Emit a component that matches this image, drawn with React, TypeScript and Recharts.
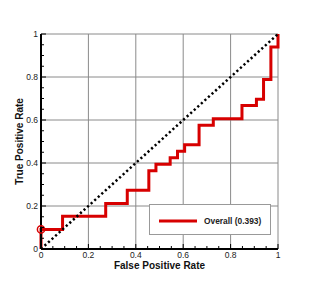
import {
  LineChart,
  Line,
  XAxis,
  YAxis,
  CartesianGrid,
  Legend,
} from 'recharts';

// ROC curve corner points (false positive rate, true positive rate)
const fpr = [0, 0, 0.091, 0.273, 0.364, 0.455, 0.485, 0.545, 0.576, 0.606, 0.667, 0.727, 0.848, 0.909, 0.939, 0.97, 1];
const tpr = [0, 0.091, 0.152, 0.212, 0.273, 0.364, 0.394, 0.424, 0.455, 0.485, 0.576, 0.606, 0.667, 0.697, 0.788, 0.939, 1];

// chance diagonal
const diagX = [0, 1];
const diagY = [0, 1];

const axisTicks = [0, 0.05, 0.1, 0.15, 0.2, 0.25, 0.3, 0.35, 0.4, 0.45, 0.5, 0.55, 0.6, 0.65, 0.7, 0.75, 0.8, 0.85, 0.9, 0.95, 1];
const majorTicks = [0, 0.2, 0.4, 0.6, 0.8, 1];
const tickLabels = ['0', '0.2', '0.4', '0.6', '0.8', '1'];
const gridTicks = [0.2, 0.4, 0.6, 0.8, 1];

const seriesName = 'Overall (0.393)';

const rocData = fpr.map((x, i) => ({ x, y: tpr[i] }));
const diagData = diagX.map((x, i) => ({ x, y: diagY[i] }));

const FONT = '"Liberation Sans", Arial, sans-serif';
const RED = '#d70000';
const TICK_MARGIN = 3;

const majorIndex = (v: number) => majorTicks.findIndex((m) => Math.abs(m - v) < 1e-6);

const YTick = (props: any) => {
  const { x, y, payload } = props;
  const mi = majorIndex(payload.value);
  const ax = x + TICK_MARGIN;
  return (
    <g>
      <line x1={ax} x2={ax + (mi >= 0 ? 5 : 3)} y1={y} y2={y} stroke="#000" strokeWidth={1} />
      {mi >= 0 && (
        <text x={x} y={y} dy="0.35em" textAnchor="end" fontSize={8.5} fontFamily={FONT} fill="#222">
          {tickLabels[mi]}
        </text>
      )}
    </g>
  );
};

const XTick = (props: any) => {
  const { x, y, payload } = props;
  const mi = majorIndex(payload.value);
  const ay = y - TICK_MARGIN;
  return (
    <g>
      <line x1={x} x2={x} y1={ay} y2={ay - (mi >= 0 ? 5 : 3)} stroke="#000" strokeWidth={1} />
      {mi >= 0 && (
        <text x={x} y={y} dy={5.5} textAnchor="middle" fontSize={8.5} fontFamily={FONT} fill="#222">
          {tickLabels[mi]}
        </text>
      )}
    </g>
  );
};

const renderLegend = () => (
  <div style={{ position: 'relative', width: '100%', height: '100%' }}>
    <svg width={120} height={29} style={{ position: 'absolute', left: 0, top: 0 }}>
      <line x1={9} x2={47} y1={16} y2={16} stroke={RED} strokeWidth={3} />
      <text x={54} y={19} fontSize={8.4} fontWeight="bold" fontFamily={FONT} fill="#222">
        {seriesName}
      </text>
    </svg>
  </div>
);

const startDot = (p: any) => {
  if (p.index === 1) {
    return <circle key="start" cx={p.cx} cy={p.cy} r={3.6} fill="none" stroke={RED} strokeWidth={1.5} />;
  }
  return <g key={`d-${p.index}`} />;
};

export default function App() {
  return (
    <div style={{ position: 'absolute', left: 0, top: 0, width: 316, height: 281, background: '#fff' }}>
      <LineChart width={316} height={281} margin={{ top: 34, right: 38, bottom: 0, left: 0 }}>
        <CartesianGrid
          stroke="#8a8a8a"
          strokeWidth={1}
          horizontalValues={gridTicks}
          verticalValues={gridTicks}
        />
        <XAxis
          type="number"
          dataKey="x"
          domain={[0, 1]}
          ticks={axisTicks}
          interval={0}
          height={32}
          tickSize={0}
          tickMargin={TICK_MARGIN}
          tickLine={false}
          tick={<XTick />}
          axisLine={{ stroke: '#000', strokeWidth: 2 }}
          label={{
            content: ({ viewBox }: any) => (
              <text
                x={viewBox.x + viewBox.width / 2}
                y={viewBox.y + 19.5}
                textAnchor="middle"
                fontSize={10}
                fontWeight="bold"
                fontFamily={FONT}
                fill="#111"
              >
                False Positive Rate
              </text>
            ),
          }}
        />
        <YAxis
          type="number"
          dataKey="y"
          domain={[0, 1]}
          ticks={axisTicks}
          interval={0}
          width={41}
          tickSize={0}
          tickMargin={TICK_MARGIN}
          tickLine={false}
          tick={<YTick />}
          axisLine={{ stroke: '#000', strokeWidth: 2 }}
          label={{
            content: ({ viewBox }: any) => {
              const cx = viewBox.x + 22.5;
              const cy = viewBox.y + viewBox.height / 2;
              return (
                <text
                  x={cx}
                  y={cy}
                  transform={`rotate(-90, ${cx}, ${cy})`}
                  textAnchor="middle"
                  fontSize={10}
                  fontWeight="bold"
                  fontFamily={FONT}
                  fill="#111"
                >
                  True Positive Rate
                </text>
              );
            },
          }}
        />
        <Legend
          layout="vertical"
          align="center"
          verticalAlign="middle"
          content={renderLegend}
          wrapperStyle={{
            left: 149,
            top: 204,
            width: 122,
            height: 31,
            boxSizing: 'border-box',
            border: '1px solid #999',
            background: '#fff',
          }}
        />
        <Line
          data={rocData}
          dataKey="y"
          name={seriesName}
          type="stepAfter"
          stroke={RED}
          strokeWidth={3}
          dot={startDot}
          activeDot={false}
          isAnimationActive={false}
        />
        <Line
          data={diagData}
          dataKey="y"
          type="linear"
          stroke="#000"
          strokeWidth={2.5}
          strokeDasharray="2.2 2.6"
          dot={false}
          activeDot={false}
          legendType="none"
          isAnimationActive={false}
        />
      </LineChart>
    </div>
  );
}
